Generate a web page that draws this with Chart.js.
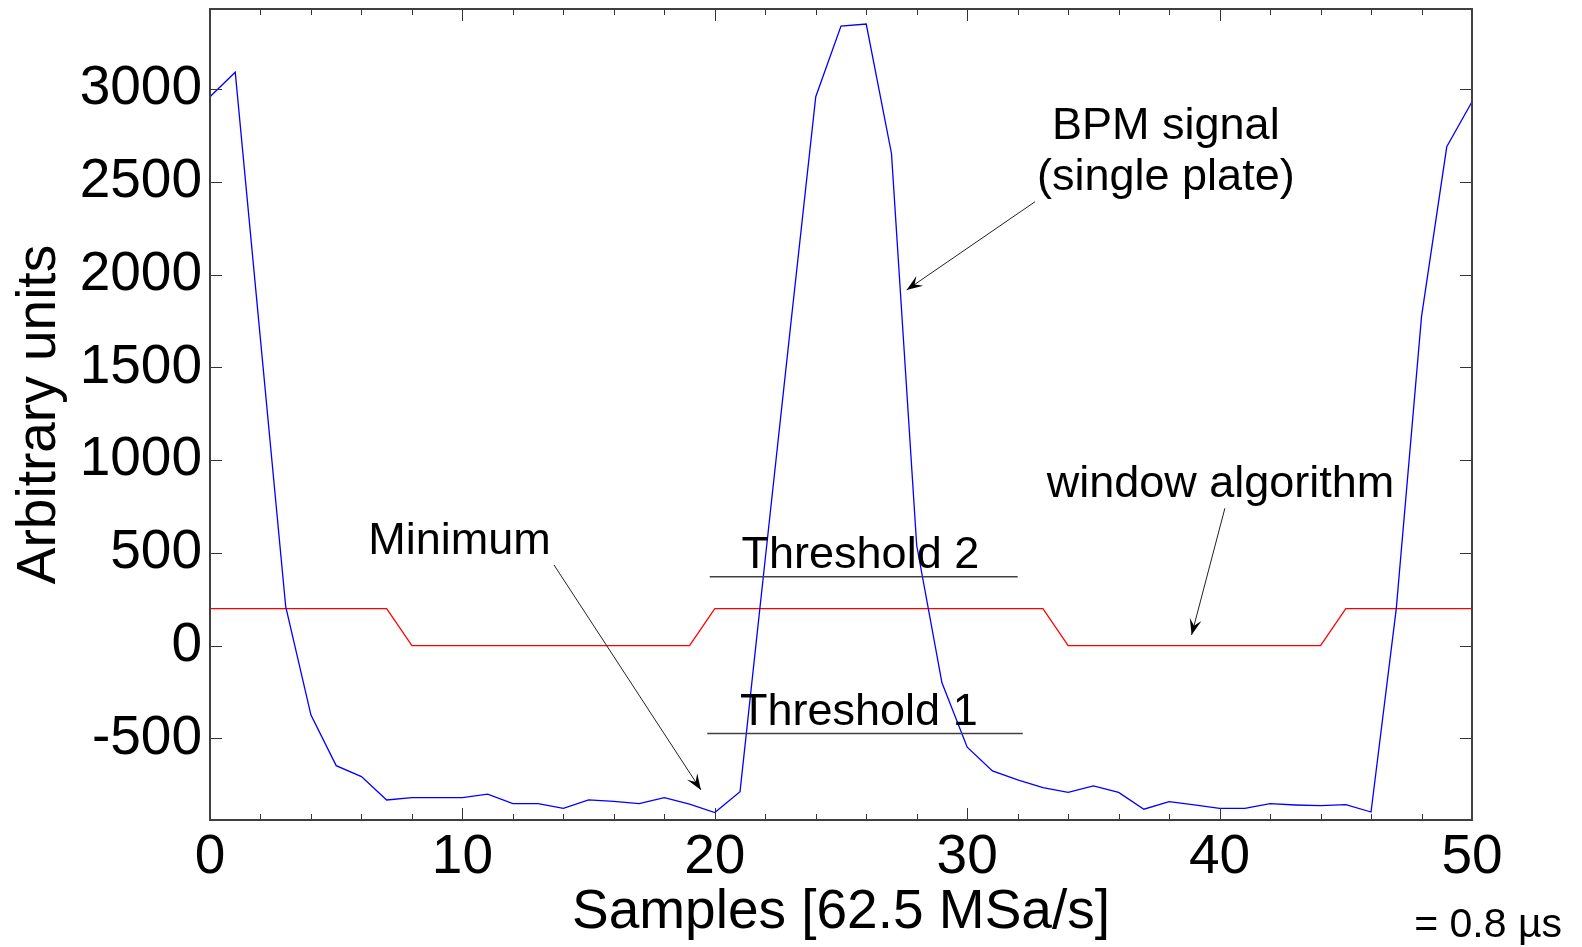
<!DOCTYPE html>
<html>
<head>
<meta charset="utf-8">
<title>BPM signal</title>
<script src="https://cdn.jsdelivr.net/npm/chart.js@4.4.1/dist/chart.umd.min.js"></script>
<style>
  html, body { margin: 0; padding: 0; background: #fff; }
  #wrap { width: 1582px; height: 947px; position: relative; }
</style>
</head>
<body>
<div id="wrap"><canvas id="bpmChart"></canvas></div>
<script>
// sample index (62.5 MSa/s)
const samples = [
  0, 1, 2, 3, 4, 5, 6, 7, 8, 9, 10, 11, 12, 13, 14, 15, 16, 17, 18, 19, 20,
  21, 22, 23, 24, 25, 26, 27, 28, 29, 30, 31, 32, 33, 34, 35, 36, 37, 38, 39, 40,
  41, 42, 43, 44, 45, 46, 47, 48, 49, 50
];

// BPM signal, single plate (arbitrary units)
const bpmSignal = [
  2960, 3092, 1650, 210, -374, -647, -706, -832, -819, -819, -819,
  -801, -852, -852, -877, -832, -840, -852, -819, -855, -900,
  -787, 470, 1720, 2960, 3341, 3352, 2654, 540, -200, -547,
  -675, -724, -765, -791, -756, -791, -882, -841, -859, -877,
  -877, -852, -859, -863, -857, -897, 200, 1774, 2690, 2933
];

// output of the window algorithm
const windowAlgorithm = [
  200, 200, 200, 200, 200, 200, 200, 200, 0, 0, 0,
  0, 0, 0, 0, 0, 0, 0, 0, 0, 200,
  200, 200, 200, 200, 200, 200, 200, 200, 200, 200,
  200, 200, 200, 0, 0, 0, 0, 0, 0, 0,
  0, 0, 0, 0, 200, 200, 200, 200, 200, 200
];

const xRange = [0, 50];
const yRange = [-940, 3433];
const xTickValues = [0, 10, 20, 30, 40, 50];
const yTickValues = [-500, 0, 500, 1000, 1500, 2000, 2500, 3000];
const xMinorStep = 2;

// threshold levels drawn as short horizontal lines
const thresholdNames = ["Threshold 2", "Threshold 1"];
const thresholdLevels = [372, -474];
const thresholdFrom = [19.8, 19.7];
const thresholdTo = [32.0, 32.2];

// text notes and arrows, placed in data units
const noteTexts = ["BPM signal", "(single plate)", "Minimum", "Threshold 2", "Threshold 1", "window algorithm"];
const noteX = [37.87, 37.87, 6.27, 21.06, 21.0, 33.15];
const noteY = [2730, 2457, 494, 420, -428, 803];
const noteAlign = ["center", "center", "left", "left", "left", "left"];

const arrowFrom = [[32.69, 2394], [13.63, 435], [40.21, 741]];
const arrowTo = [[27.6, 1918], [19.45, -778], [38.89, 58]];

const FONT = '"Liberation Sans", Arial, sans-serif';

function points(xs, ys) {
  return xs.map((x, i) => ({ x: x, y: ys[i] }));
}

function arrowHead(ctx, x0, y0, x1, y1) {
  const ang = Math.atan2(y1 - y0, x1 - x0);
  const len = 16, half = 6;
  ctx.save();
  ctx.translate(x1, y1);
  ctx.rotate(ang);
  ctx.beginPath();
  ctx.moveTo(0, 0);
  ctx.lineTo(-len, -half);
  ctx.lineTo(-len * 0.6, 0);
  ctx.lineTo(-len, half);
  ctx.closePath();
  ctx.fill();
  ctx.restore();
}

const boxAndNotes = {
  id: "boxAndNotes",
  afterDatasetsDraw(chart) {
    const { ctx, chartArea: a } = chart;
    const x = chart.scales.x, y = chart.scales.y;
    ctx.save();

    // inward tick marks, MATLAB style
    ctx.strokeStyle = "#333";
    ctx.lineWidth = 1;
    ctx.beginPath();
    for (let v = x.min; v <= x.max; v += xMinorStep) {
      const px = Math.round(x.getPixelForValue(v)) + 0.5;
      const len = xTickValues.includes(v) ? 12 : 6;
      ctx.moveTo(px, a.bottom); ctx.lineTo(px, a.bottom - len);
      ctx.moveTo(px, a.top); ctx.lineTo(px, a.top + len);
    }
    y.ticks.forEach(t => {
      const py = Math.round(y.getPixelForValue(t.value)) + 0.5;
      ctx.moveTo(a.left, py); ctx.lineTo(a.left + 12, py);
      ctx.moveTo(a.right, py); ctx.lineTo(a.right - 12, py);
    });
    ctx.stroke();

    // axes box
    ctx.strokeStyle = "#404040";
    ctx.lineWidth = 2;
    ctx.strokeRect(a.left, a.top, a.right - a.left, a.bottom - a.top);

    // threshold lines
    ctx.strokeStyle = "#404040";
    ctx.lineWidth = 1.5;
    thresholdLevels.forEach((lvl, i) => {
      const py = y.getPixelForValue(lvl);
      ctx.beginPath();
      ctx.moveTo(x.getPixelForValue(thresholdFrom[i]), py);
      ctx.lineTo(x.getPixelForValue(thresholdTo[i]), py);
      ctx.stroke();
    });

    // arrows
    ctx.strokeStyle = "#222";
    ctx.fillStyle = "#000";
    ctx.lineWidth = 1;
    arrowFrom.forEach((f, i) => {
      const x0 = x.getPixelForValue(f[0]), y0 = y.getPixelForValue(f[1]);
      const x1 = x.getPixelForValue(arrowTo[i][0]), y1 = y.getPixelForValue(arrowTo[i][1]);
      ctx.beginPath();
      ctx.moveTo(x0, y0);
      ctx.lineTo(x1, y1);
      ctx.stroke();
      arrowHead(ctx, x0, y0, x1, y1);
    });

    // notes
    ctx.fillStyle = "#000";
    ctx.font = "45px " + FONT;
    ctx.textBaseline = "alphabetic";
    noteTexts.forEach((txt, i) => {
      ctx.textAlign = noteAlign[i];
      ctx.fillText(txt, x.getPixelForValue(noteX[i]), y.getPixelForValue(noteY[i]));
    });

    // sample period note under the x axis
    ctx.font = "41px " + FONT;
    ctx.textAlign = "right";
    ctx.fillText("= 0.8 \u00b5s", a.right + 90, 937);

    ctx.restore();
  }
};

new Chart(document.getElementById("bpmChart"), {
  type: "line",
  data: {
    datasets: [
      {
        label: "BPM signal",
        data: points(samples, bpmSignal),
        borderColor: "rgb(0,0,255)",
        borderWidth: 1.3,
        pointRadius: 0,
        tension: 0,
        fill: false
      },
      {
        label: "window algorithm",
        data: points(samples, windowAlgorithm),
        borderColor: "rgb(255,0,0)",
        borderWidth: 1.3,
        pointRadius: 0,
        tension: 0,
        fill: false
      }
    ]
  },
  options: {
    responsive: true,
    maintainAspectRatio: false,
    animation: false,
    events: [],
    layout: { padding: { top: 9, right: 110, left: 0, bottom: 0 } },
    plugins: { legend: { display: false }, tooltip: { enabled: false } },
    scales: {
      x: {
        type: "linear",
        min: xRange[0],
        max: xRange[1],
        grid: { display: false, drawTicks: false },
        border: { display: false },
        afterBuildTicks(s) { s.ticks = xTickValues.map(v => ({ value: v })); },
        ticks: {
          autoSkip: false,
          maxRotation: 0,
          padding: 5,
          color: "#000",
          font: { family: FONT, size: 55 },
          callback: v => String(v)
        },
        title: {
          display: true,
          text: "Samples [62.5 MSa/s]",
          color: "#000",
          font: { family: FONT, size: 55 },
          padding: { top: 0, bottom: 1 }
        },
        afterFit(s) { s.height = 127; s.paddingLeft = 0; s.paddingRight = 0; }
      },
      y: {
        min: yRange[0],
        max: yRange[1],
        grid: { display: false, drawTicks: false },
        border: { display: false },
        afterBuildTicks(s) { s.ticks = yTickValues.map(v => ({ value: v })); },
        ticks: {
          autoSkip: false,
          padding: 8,
          color: "#000",
          font: { family: FONT, size: 55 },
          callback: v => String(v)
        },
        title: {
          display: true,
          text: "Arbitrary units",
          color: "#000",
          font: { family: FONT, size: 55 },
          padding: { top: 7, bottom: 0 }
        },
        afterFit(s) { s.width = 210; s.paddingTop = 0; s.paddingBottom = 0; }
      }
    }
  },
  plugins: [boxAndNotes]
});
</script>
</body>
</html>
